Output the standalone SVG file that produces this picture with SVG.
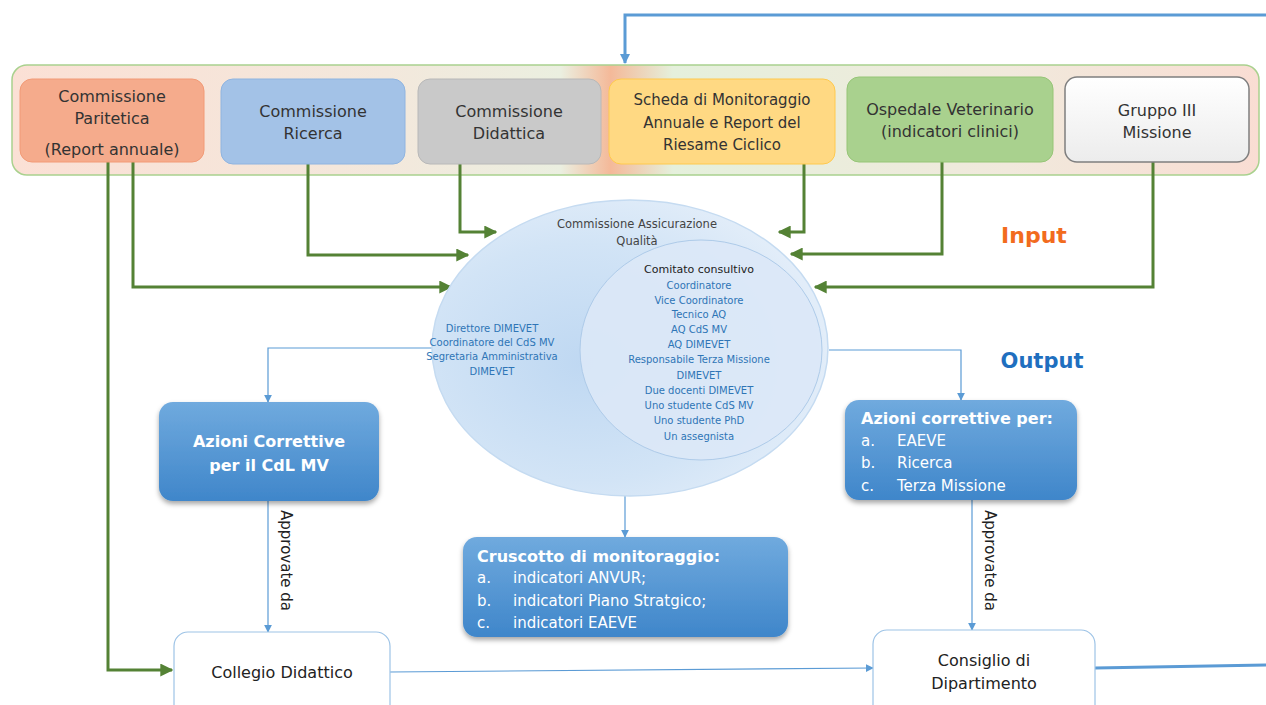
<svg xmlns="http://www.w3.org/2000/svg" width="1266" height="705" viewBox="0 0 1266 705">
<style>
text{font-family:"DejaVu Sans","Liberation Sans",sans-serif;}
.t16{font-size:16px;fill:#333;text-anchor:middle;}
.t15{font-size:15px;fill:#333;text-anchor:middle;}
.wb{font-size:16px;font-weight:bold;fill:#fff;}
.wr{font-size:15px;fill:#fff;}
.bl{font-size:10px;fill:#2e75b6;text-anchor:middle;}
.g{fill:none;stroke:#548235;stroke-width:3;}
.b{fill:none;stroke:#5b9bd5;stroke-width:1.2;}
.bt{fill:none;stroke:#5b9bd5;stroke-width:3;}
</style>
<defs>
<linearGradient id="cont" x1="0" y1="0" x2="1" y2="0">
<stop offset="0" stop-color="#fbe0d5"/>
<stop offset="0.3" stop-color="#f3e8dc"/>
<stop offset="0.44" stop-color="#ebefe0"/>
<stop offset="0.48" stop-color="#f4b999"/>
<stop offset="0.53" stop-color="#e5f0dc"/>
<stop offset="0.8" stop-color="#f1e9dc"/>
<stop offset="1" stop-color="#f9ddd3"/>
</linearGradient>
<linearGradient id="blueBox" x1="0" y1="0" x2="0" y2="1">
<stop offset="0" stop-color="#70aade"/>
<stop offset="1" stop-color="#3f86ca"/>
</linearGradient>
<linearGradient id="grayBox" x1="0" y1="0" x2="0" y2="1">
<stop offset="0" stop-color="#ffffff"/>
<stop offset="1" stop-color="#ececec"/>
</linearGradient>
<radialGradient id="ell" cx="0.38" cy="0.55" r="0.62">
<stop offset="0" stop-color="#bfd8f2"/>
<stop offset="0.65" stop-color="#d2e4f6"/>
<stop offset="1" stop-color="#e2edf9"/>
</radialGradient>
<filter id="sh" x="-10%" y="-10%" width="120%" height="130%">
<feDropShadow dx="0" dy="3" stdDeviation="2.5" flood-color="#000" flood-opacity="0.35"/>
</filter>
<marker id="ga" markerUnits="userSpaceOnUse" viewBox="0 0 10 10" refX="9" refY="5" markerWidth="13" markerHeight="13" orient="auto">
<path d="M0,0 L10,5 L0,10 z" fill="#548235"/>
</marker>
<marker id="ba" markerUnits="userSpaceOnUse" viewBox="0 0 10 10" refX="9" refY="5" markerWidth="8" markerHeight="8" orient="auto">
<path d="M0,0 L10,5 L0,10 z" fill="#5b9bd5"/>
</marker>
<marker id="bab" markerUnits="userSpaceOnUse" viewBox="0 0 10 10" refX="9" refY="5" markerWidth="14" markerHeight="10" orient="auto">
<path d="M0,0 L10,5 L0,10 z" fill="#5b9bd5"/>
</marker>
</defs>
<rect width="1266" height="705" fill="#fff"/>

<g id="input-container">
<rect x="12" y="65" width="1247" height="110" rx="15" fill="url(#cont)" stroke="#a9d18e" stroke-width="1.5"/>
</g>

<g id="connectors">
<path class="bt" d="M1266,15 H625 V63" marker-end="url(#bab)"/>
<path class="g" d="M108,162 V670 H172" marker-end="url(#ga)"/>
<path class="g" d="M133,162 V287 H451" marker-end="url(#ga)"/>
<path class="g" d="M308,164 V255 H468" marker-end="url(#ga)"/>
<path class="g" d="M460,164 V232 H496" marker-end="url(#ga)"/>
<path class="g" d="M804,164 V232 H779" marker-end="url(#ga)"/>
<path class="g" d="M942,162 V254 H791" marker-end="url(#ga)"/>
<path class="g" d="M1153,162 V287 H815" marker-end="url(#ga)"/>
<path class="b" d="M433,348 H268 V402" marker-end="url(#ba)"/>
<path class="b" d="M829,350 H961 V400" marker-end="url(#ba)"/>
<path class="b" d="M625,496 V537" marker-end="url(#ba)"/>
<path class="b" d="M268,501 V632" marker-end="url(#ba)"/>
<path class="b" d="M972,500 V630" marker-end="url(#ba)"/>
<path class="b" d="M390,672 L873,668" marker-end="url(#ba)"/>
<path class="bt" d="M1095,668 L1266,665"/>
<text transform="translate(281,510) rotate(90)" style="font-size:15px;fill:#222;">Approvate da</text>
<text transform="translate(985,510) rotate(90)" style="font-size:15px;fill:#222;">Approvate da</text>
</g>

<g id="commissione-paritetica">
<rect x="20" y="79" width="184" height="83" rx="12" fill="#f5ab8c" stroke="#f29a76"/>
<text class="t16" x="112" y="102">Commissione</text>
<text class="t16" x="112" y="124">Paritetica</text>
<text class="t16" x="112" y="155">(Report annuale)</text>
</g>
<g id="commissione-ricerca">
<rect x="221" y="79" width="184" height="85" rx="12" fill="#a3c2e7" stroke="#8fb4e0"/>
<text class="t16" x="313" y="117">Commissione</text>
<text class="t16" x="313" y="139">Ricerca</text>
</g>
<g id="commissione-didattica">
<rect x="418" y="79" width="183" height="85" rx="12" fill="#c9c9c9" stroke="#b8b8b8"/>
<text class="t16" x="509" y="117">Commissione</text>
<text class="t16" x="509" y="139">Didattica</text>
</g>
<g id="scheda-monitoraggio">
<rect x="609" y="79" width="226" height="85" rx="12" fill="#ffd983" stroke="#ffc94d"/>
<text class="t15" x="722" y="105">Scheda di Monitoraggio</text>
<text class="t15" x="722" y="128">Annuale e Report del</text>
<text class="t15" x="722" y="150">Riesame Ciclico</text>
</g>
<g id="ospedale-veterinario">
<rect x="847" y="77" width="206" height="85" rx="12" fill="#a9d18e" stroke="#96c577"/>
<text class="t16" x="950" y="115">Ospedale Veterinario</text>
<text class="t16" x="950" y="137">(indicatori clinici)</text>
</g>
<g id="gruppo-iii-missione">
<rect x="1065" y="77" width="184" height="85" rx="12" fill="url(#grayBox)" stroke="#7f7f7f" stroke-width="1.5"/>
<text class="t16" x="1157" y="116">Gruppo III</text>
<text class="t16" x="1157" y="138">Missione</text>
</g>

<g id="labels">
<text x="1034" y="243" style="font-size:22px;font-weight:bold;fill:#f26b1d;text-anchor:middle;">Input</text>
<text x="1042" y="368" style="font-size:21px;font-weight:bold;fill:#1f6fbf;text-anchor:middle;">Output</text>
</g>

<g id="commissione-assicurazione-qualita">
<ellipse cx="630" cy="348" rx="198" ry="148" fill="url(#ell)" stroke="#c5dbf1" stroke-width="1.5"/>
<text x="637" y="228" style="font-size:11.5px;fill:#444;text-anchor:middle;">Commissione Assicurazione</text>
<text x="637" y="245" style="font-size:11.5px;fill:#444;text-anchor:middle;">Qualità</text>
<text class="bl" x="492" y="332">Direttore DIMEVET</text>
<text class="bl" x="492" y="346">Coordinatore del CdS MV</text>
<text class="bl" x="492" y="360">Segretaria Amministrativa</text>
<text class="bl" x="492" y="375">DIMEVET</text>
</g>
<g id="comitato-consultivo">
<ellipse cx="701" cy="350" rx="121" ry="110" fill="#dbe8f7" fill-opacity="0.9" stroke="#aecbe9" stroke-width="1"/>
<text x="699" y="273" style="font-size:11px;fill:#222;text-anchor:middle;">Comitato consultivo</text>
<text class="bl" x="699" y="289">Coordinatore</text>
<text class="bl" x="699" y="304">Vice Coordinatore</text>
<text class="bl" x="699" y="318">Tecnico AQ</text>
<text class="bl" x="699" y="333">AQ CdS MV</text>
<text class="bl" x="699" y="348">AQ DIMEVET</text>
<text class="bl" x="699" y="363">Responsabile Terza Missione</text>
<text class="bl" x="699" y="379">DIMEVET</text>
<text class="bl" x="699" y="394">Due docenti DIMEVET</text>
<text class="bl" x="699" y="409">Uno studente CdS MV</text>
<text class="bl" x="699" y="424">Uno studente PhD</text>
<text class="bl" x="699" y="440">Un assegnista</text>
</g>

<g id="azioni-correttive-cdl">
<rect x="159" y="402" width="220" height="99" rx="14" fill="url(#blueBox)" filter="url(#sh)"/>
<text class="wb" x="269" y="447" text-anchor="middle">Azioni Correttive</text>
<text class="wb" x="269" y="471" text-anchor="middle">per il CdL MV</text>
</g>
<g id="azioni-correttive-per">
<rect x="845" y="400" width="232" height="100" rx="14" fill="url(#blueBox)" filter="url(#sh)"/>
<text class="wb" x="861" y="424">Azioni correttive per:</text>
<text class="wr" x="861" y="446">a.</text><text class="wr" x="897" y="446">EAEVE</text>
<text class="wr" x="861" y="468">b.</text><text class="wr" x="897" y="468">Ricerca</text>
<text class="wr" x="861" y="491">c.</text><text class="wr" x="897" y="491">Terza Missione</text>
</g>
<g id="cruscotto-monitoraggio">
<rect x="463" y="537" width="325" height="100" rx="14" fill="url(#blueBox)" filter="url(#sh)"/>
<text class="wb" x="477" y="562">Cruscotto di monitoraggio:</text>
<text class="wr" x="477" y="583">a.</text><text class="wr" x="513" y="583">indicatori ANVUR;</text>
<text class="wr" x="477" y="606">b.</text><text class="wr" x="513" y="606">indicatori Piano Stratgico;</text>
<text class="wr" x="477" y="628">c.</text><text class="wr" x="513" y="628">indicatori EAEVE</text>
</g>
<g id="collegio-didattico">
<rect x="174" y="632" width="216" height="90" rx="14" fill="#fff" stroke="#9dc3e6" stroke-width="1.2"/>
<text class="t16" x="282" y="678" style="fill:#222;">Collegio  Didattico</text>
</g>
<g id="consiglio-dipartimento">
<rect x="873" y="630" width="222" height="92" rx="14" fill="#fff" stroke="#9dc3e6" stroke-width="1.2"/>
<text class="t16" x="984" y="666" style="fill:#222;">Consiglio di</text>
<text class="t16" x="984" y="689" style="fill:#222;">Dipartimento</text>
</g>
</svg>
